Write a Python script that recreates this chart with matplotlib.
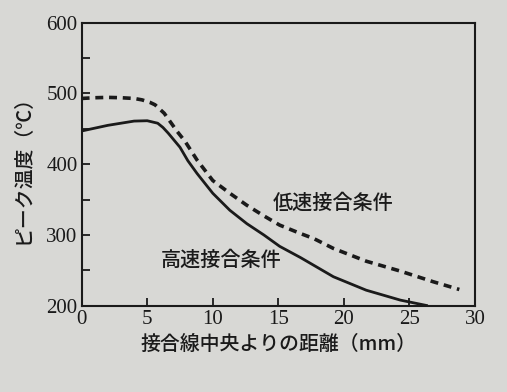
import matplotlib
matplotlib.use("Agg")
import matplotlib.pyplot as plt
from matplotlib.ticker import MultipleLocator

plt.rcParams['font.family'] = ['Noto Sans CJK JP', 'DejaVu Sans']

# data (distance from joint centre line [mm], peak temperature [deg C])
high_speed_x = [0, 1, 2, 3, 4, 5, 5.8, 6.2, 6.6, 7.5, 8.1, 8.8, 10, 11.3, 12.6, 13.9, 15.1, 16.7, 19.2, 21.7, 24.3, 26.4]
high_speed_y = [447, 451, 455, 458, 461, 461.5, 458, 452, 444, 424, 405, 387, 359, 335, 316, 300, 284, 268, 241, 222, 208, 200]

low_speed_x = [0, 1, 2, 3, 4, 4.6, 5.2, 5.6, 6.3, 7.3, 7.9, 8.8, 10, 11.3, 12.6, 13.9, 15.1, 16.7, 17.7, 19.2, 21.7, 24.3, 26.8, 28.8]
low_speed_y = [493, 494, 494.5, 494, 493, 491, 487.5, 484, 472, 446, 432, 406, 377, 359, 342, 327, 314, 302, 295, 281, 263, 249, 234, 223]

x_ticks = [0, 5, 10, 15, 20, 25, 30]
y_ticks = [200, 300, 400, 500, 600]

label_low = "低速接合条件"
label_high = "高速接合条件"
xlabel = "接合線中央よりの距離（mm）"
ylabel = "ピーク温度（℃）"

bg = "#d8d8d5"
ink = "#1a1a1a"

fig = plt.figure(figsize=(5.07, 3.92), dpi=100, facecolor=bg)
ax = fig.add_axes([0.161, 0.220, 0.776, 0.722], facecolor=bg)

ax.plot(high_speed_x, high_speed_y, color=ink, lw=2.0, solid_capstyle='butt',
        solid_joinstyle='round')
ax.plot(low_speed_x, low_speed_y, color=ink, lw=2.6, linestyle=(0, (2.2, 1.6)))

ax.set_xlim(0, 30)
ax.set_ylim(200, 600)
ax.set_xticks(x_ticks)
ax.set_yticks(y_ticks)
ax.yaxis.set_minor_locator(MultipleLocator(50))

for s in ax.spines.values():
    s.set_linewidth(1.5)
    s.set_color(ink)

ax.tick_params(axis='both', which='both', direction='in', color=ink, width=1.3)
ax.tick_params(axis='both', which='major', length=6)
ax.tick_params(axis='y', which='minor', length=6)
ax.tick_params(axis='x', pad=3)
ax.tick_params(axis='y', pad=3)

for lab in ax.get_xticklabels() + ax.get_yticklabels():
    lab.set_family('Liberation Serif')
    lab.set_fontsize(15)
    lab.set_color(ink)

ax.text(14.6, 345, label_low, fontsize=14.5, fontweight='medium', color=ink,
        va='center', ha='left')
ax.text(6.0, 265, label_high, fontsize=14.5, fontweight='medium', color=ink,
        va='center', ha='left')

ax.set_xlabel(xlabel, fontsize=14.3, fontweight='medium', color=ink, labelpad=4)
ax.set_ylabel(ylabel, fontsize=14.3, fontweight='medium', color=ink, labelpad=10)

fig.savefig("out.png", dpi=100, facecolor=bg)
